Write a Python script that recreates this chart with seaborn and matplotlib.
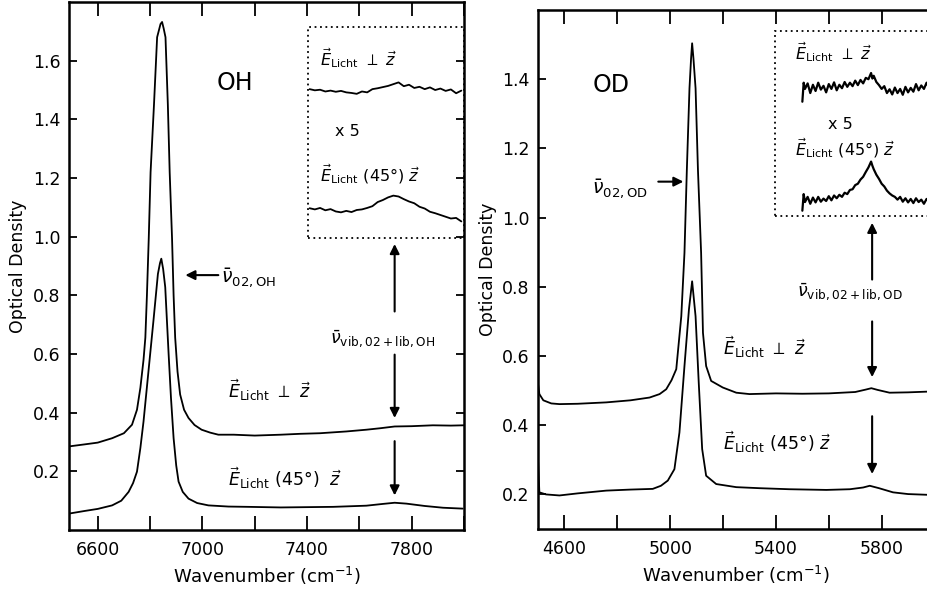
import numpy as np
import pandas as pd
import matplotlib
matplotlib.use("Agg")
import matplotlib.pyplot as plt
from matplotlib.patches import Rectangle
from matplotlib.ticker import MultipleLocator
import seaborn as sns

# ---------------- data ----------------
# OH panel, E perpendicular z (upper curve)
oh_perp_wn = [6490, 6550, 6600, 6655, 6700, 6731, 6750, 6763, 6775, 6782, 6788, 6795, 6802,
              6815, 6827, 6840, 6846, 6852, 6859, 6868, 6875, 6884, 6890, 6896, 6905, 6915,
              6930, 6947, 6970, 6997, 7030, 7061, 7120, 7200, 7300, 7374, 7450, 7550, 7627,
              7680, 7735, 7800, 7881, 7950, 8000]
oh_perp_od = [0.285, 0.292, 0.298, 0.313, 0.330, 0.359, 0.410, 0.485, 0.580, 0.656, 0.800,
              0.995, 1.220, 1.450, 1.680, 1.725, 1.732, 1.710, 1.680, 1.450, 1.220, 0.995,
              0.800, 0.656, 0.540, 0.462, 0.410, 0.382, 0.358, 0.342, 0.332, 0.325, 0.325,
              0.322, 0.325, 0.328, 0.330, 0.336, 0.342, 0.347, 0.353, 0.354, 0.357, 0.356, 0.357]
# OH panel, E at 45 deg to z (lower curve)
oh_45_wn = [6490, 6550, 6600, 6655, 6690, 6718, 6735, 6750, 6763, 6775, 6794, 6813, 6830,
            6838, 6843, 6850, 6858, 6871, 6880, 6890, 6900, 6909, 6925, 6947, 6980, 7023,
            7100, 7175, 7300, 7400, 7500, 7627, 7690, 7735, 7780, 7850, 7920, 7995]
oh_45_od = [0.056, 0.065, 0.072, 0.084, 0.100, 0.130, 0.160, 0.199, 0.280, 0.370, 0.542,
            0.714, 0.873, 0.910, 0.925, 0.890, 0.828, 0.599, 0.450, 0.313, 0.220, 0.165,
            0.130, 0.107, 0.092, 0.084, 0.080, 0.079, 0.077, 0.078, 0.079, 0.083, 0.089,
            0.093, 0.090, 0.082, 0.076, 0.073]
# OD panel, E perpendicular z (upper curve)
od_perp_wn = [4500, 4505, 4520, 4550, 4581, 4650, 4758, 4850, 4922, 4960, 4985, 5005, 5023,
              5042, 5054, 5063, 5073, 5079, 5083, 5088, 5096, 5105, 5117, 5124, 5136, 5155,
              5199, 5250, 5300, 5400, 5500, 5600, 5700, 5740, 5761, 5785, 5830, 5900, 5970, 6000]
od_perp_od = [0.520, 0.490, 0.472, 0.463, 0.461, 0.462, 0.466, 0.472, 0.480, 0.490, 0.504,
              0.530, 0.562, 0.715, 0.898, 1.138, 1.374, 1.460, 1.504, 1.460, 1.374, 1.138,
              0.898, 0.667, 0.571, 0.528, 0.509, 0.494, 0.490, 0.492, 0.491, 0.492, 0.496,
              0.503, 0.507, 0.502, 0.494, 0.495, 0.497, 0.497]
# OD panel, E at 45 deg to z (lower curve)
od_45_wn = [4500, 4505, 4530, 4581, 4650, 4758, 4850, 4934, 4965, 4991, 5016, 5035, 5054,
            5071, 5083, 5096, 5108, 5121, 5136, 5174, 5250, 5338, 5450, 5591, 5680, 5730,
            5755, 5790, 5843, 5900, 5970, 6000]
od_45_od = [0.300, 0.206, 0.200, 0.197, 0.203, 0.211, 0.214, 0.216, 0.225, 0.240, 0.273,
            0.379, 0.571, 0.735, 0.816, 0.715, 0.523, 0.331, 0.254, 0.230, 0.221, 0.218,
            0.215, 0.213, 0.215, 0.220, 0.225, 0.218, 0.206, 0.201, 0.199, 0.198]

# x5 magnified insets (displayed values)
oh_ins_wn = [7410, 7430, 7450, 7470, 7490, 7510, 7530, 7550, 7570, 7590, 7610, 7630, 7650,
             7670, 7690, 7710, 7730, 7750, 7770, 7790, 7810, 7830, 7850, 7870, 7890, 7910,
             7930, 7950, 7970, 7990]
oh_ins_perp = [1.503, 1.499, 1.501, 1.495, 1.498, 1.494, 1.497, 1.492, 1.490, 1.487, 1.495,
               1.492, 1.503, 1.506, 1.510, 1.514, 1.520, 1.526, 1.513, 1.518, 1.507, 1.511,
               1.503, 1.509, 1.500, 1.505, 1.497, 1.502, 1.489, 1.498]
oh_ins_45 = [1.097, 1.093, 1.098, 1.090, 1.094, 1.086, 1.083, 1.088, 1.084, 1.091, 1.093,
             1.098, 1.104, 1.118, 1.125, 1.134, 1.140, 1.137, 1.128, 1.120, 1.114, 1.102,
             1.096, 1.085, 1.080, 1.074, 1.068, 1.062, 1.064, 1.052]
od_ins_wn = [5500, 5505, 5510, 5520, 5530, 5540, 5550, 5560, 5570, 5580, 5590, 5600, 5610,
             5620, 5630, 5640, 5650, 5660, 5670, 5680, 5690, 5700, 5710, 5720, 5730, 5740,
             5750, 5760, 5765, 5770, 5780, 5790, 5800, 5810, 5820, 5830, 5840, 5850, 5860,
             5870, 5880, 5890, 5900, 5910, 5920, 5930, 5940, 5950, 5960, 5970, 5980, 5990]
od_ins_perp = [1.335, 1.390, 1.372, 1.388, 1.360, 1.384, 1.366, 1.390, 1.370, 1.381, 1.362,
               1.386, 1.372, 1.391, 1.368, 1.384, 1.374, 1.392, 1.378, 1.390, 1.380, 1.396,
               1.383, 1.398, 1.388, 1.404, 1.400, 1.418, 1.402, 1.410, 1.392, 1.383, 1.372,
               1.380, 1.360, 1.371, 1.356, 1.376, 1.360, 1.372, 1.355, 1.378, 1.362, 1.375,
               1.364, 1.386, 1.368, 1.382, 1.372, 1.390, 1.374, 1.385]
od_ins_45 = [1.020, 1.068, 1.045, 1.060, 1.040, 1.058, 1.044, 1.060, 1.046, 1.055, 1.048,
             1.062, 1.050, 1.064, 1.056, 1.066, 1.060, 1.072, 1.068, 1.080, 1.082, 1.094,
             1.098, 1.110, 1.118, 1.132, 1.145, 1.162, 1.150, 1.140, 1.124, 1.112, 1.098,
             1.090, 1.078, 1.070, 1.064, 1.060, 1.052, 1.060, 1.046, 1.056, 1.044, 1.054,
             1.042, 1.056, 1.045, 1.052, 1.040, 1.054, 1.046, 1.050]

oh_xticks = [6600, 7000, 7400, 7800]
od_xticks = [4600, 5000, 5400, 5800]
oh_yticks = [0.2, 0.4, 0.6, 0.8, 1.0, 1.2, 1.4, 1.6]
od_yticks = [0.2, 0.4, 0.6, 0.8, 1.0, 1.2, 1.4]

# ---------------- style ----------------
sns.set_theme(style="ticks")
plt.rcParams["font.family"] = ["DejaVu Sans"]
plt.rcParams["mathtext.fontset"] = "dejavusans"

fig = plt.figure(figsize=(9.27, 5.94), dpi=100)
ax1 = fig.add_axes([0.0744, 0.1077, 0.4261, 0.8889])
ax2 = fig.add_axes([0.5804, 0.1094, 0.4277, 0.8737])

LW = 1.3
K = "black"

def curve(ax, xs, ys, lw=LW):
    df = pd.DataFrame({"wn": xs, "od": ys})
    sns.lineplot(data=df, x="wn", y="od", ax=ax, color=K, lw=lw, sort=False,
                 estimator=None, legend=False)

for xs, ys in [(oh_perp_wn, oh_perp_od), (oh_45_wn, oh_45_od),
               (oh_ins_wn, oh_ins_perp), (oh_ins_wn, oh_ins_45)]:
    curve(ax1, xs, ys)
for xs, ys in [(od_perp_wn, od_perp_od), (od_45_wn, od_45_od)]:
    curve(ax2, xs, ys)
for xs, ys in [(od_ins_wn, od_ins_perp), (od_ins_wn, od_ins_45)]:
    curve(ax2, xs, ys, lw=1.6)

def style_axes(ax, xlim, ylim, xt, yt):
    ax.set_xlim(*xlim)
    ax.set_ylim(*ylim)
    ax.set_xticks(xt)
    ax.xaxis.set_minor_locator(MultipleLocator(200))
    ax.set_yticks(yt)
    ax.set_yticklabels([f"{v:.1f}" for v in yt])
    ax.tick_params(axis="x", which="both", direction="in", length=10, width=1.3,
                   top=True, bottom=True, labelsize=12.5, pad=8, colors=K)
    ax.tick_params(axis="y", which="both", direction="in", length=6, width=1.3,
                   left=True, right=True, labelsize=12.5, pad=6, colors=K)
    for s in ax.spines.values():
        s.set_linewidth(1.8)
        s.set_color(K)
    ax.set_xlabel("Wavenumber (cm$^{-1}$)", fontsize=13, labelpad=4, color=K)
    ax.set_ylabel("Optical Density", fontsize=12.5, labelpad=4, color=K)
    ax.set_facecolor("white")

style_axes(ax1, (6490, 8000), (0.0, 1.8), oh_xticks, oh_yticks)
style_axes(ax2, (4500, 6000), (0.1, 1.6), od_xticks, od_yticks)

dot = dict(fill=False, edgecolor=K, lw=1.3, linestyle=(0, (1, 2)))
ax1.add_patch(Rectangle((7405, 0.996), 595, 0.72, **dot))
ax2.add_patch(Rectangle((5395, 1.006), 650, 0.533, clip_on=False, **dot))

arr = dict(arrowstyle="-|>", color=K, lw=1.5, mutation_scale=14, shrinkA=0, shrinkB=0)
FS = 12.5
perp = r"$\vec{E}_{\rm Licht}\ \perp\ \vec{z}$"
deg45 = r"$\vec{E}_{\rm Licht}$ (45°) $\vec{z}$"
deg45b = r"$\vec{E}_{\rm Licht}$ (45°)  $\vec{z}$"

# ---- OH panel annotations ----
ax1.text(7126, 1.524, "OH", fontsize=17, ha="center", va="center", color=K)
ax1.annotate("", xy=(6935, 0.869), xytext=(7061, 0.869), arrowprops=arr)
ax1.text(7072, 0.862, r"$\bar{\nu}_{02,\rm OH}$", fontsize=FS + 1, ha="left", va="center", color=K)
ax1.text(7450, 1.61, perp, fontsize=FS - 1, ha="left", va="center", color=K)
ax1.text(7507, 1.36, "x 5", fontsize=FS - 1, ha="left", va="center", color=K)
ax1.text(7450, 1.212, deg45, fontsize=FS - 1, ha="left", va="center", color=K)
ax1.annotate("", xy=(7735, 0.975), xytext=(7735, 0.745), arrowprops=arr)
ax1.text(7488, 0.649, r"$\bar{\nu}_{\rm vib,02+lib,OH}$", fontsize=FS, ha="left", va="center", color=K)
ax1.annotate("", xy=(7735, 0.382), xytext=(7735, 0.598), arrowprops=arr)
ax1.annotate("", xy=(7735, 0.118), xytext=(7735, 0.303), arrowprops=arr)
ax1.text(7099, 0.478, perp, fontsize=FS, ha="left", va="center", color=K)
ax1.text(7099, 0.176, deg45b, fontsize=FS, ha="left", va="center", color=K)

# ---- OD panel annotations ----
ax2.text(4778, 1.383, "OD", fontsize=17, ha="center", va="center", color=K)
ax2.text(4706, 1.083, r"$\bar{\nu}_{02,\rm OD}$", fontsize=FS + 1, ha="left", va="center", color=K)
ax2.annotate("", xy=(5050, 1.104), xytext=(4955, 1.104), arrowprops=arr)
ax2.text(5471, 1.478, perp, fontsize=FS - 1, ha="left", va="center", color=K)
ax2.text(5596, 1.268, "x 5", fontsize=FS - 1, ha="left", va="center", color=K)
ax2.text(5471, 1.201, deg45, fontsize=FS - 1, ha="left", va="center", color=K)
ax2.annotate("", xy=(5764, 0.985), xytext=(5764, 0.821), arrowprops=arr)
ax2.text(5479, 0.783, r"$\bar{\nu}_{\rm vib,02+lib,OD}$", fontsize=FS, ha="left", va="center",
         color=K, clip_on=False)
ax2.annotate("", xy=(5764, 0.539), xytext=(5764, 0.700), arrowprops=arr)
ax2.annotate("", xy=(5764, 0.259), xytext=(5764, 0.426), arrowprops=arr)
ax2.text(5198, 0.625, perp, fontsize=FS, ha="left", va="center", color=K)
ax2.text(5198, 0.351, deg45, fontsize=FS, ha="left", va="center", color=K)

fig.savefig("out.png", dpi=100, facecolor="white")
